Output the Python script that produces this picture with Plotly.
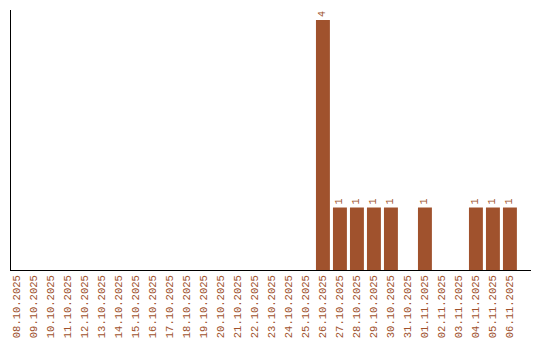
import plotly.graph_objects as go

dates = ["08.10.2025","09.10.2025","10.10.2025","11.10.2025","12.10.2025","13.10.2025",
         "14.10.2025","15.10.2025","16.10.2025","17.10.2025","18.10.2025","19.10.2025",
         "20.10.2025","21.10.2025","22.10.2025","23.10.2025","24.10.2025","25.10.2025",
         "26.10.2025","27.10.2025","28.10.2025","29.10.2025","30.10.2025","31.10.2025",
         "01.11.2025","02.11.2025","03.11.2025","04.11.2025","05.11.2025","06.11.2025"]
values = [0,0,0,0,0,0,0,0,0,0,0,0,0,0,0,0,0,0,4,1,1,1,1,0,1,0,0,1,1,1]

color = "#A0522D"
labels = [str(v) if v > 0 else "" for v in values]

fig = go.Figure(go.Bar(
    x=list(range(len(dates))), y=values, marker_color=color, marker_line_width=0, width=0.82,
    text=labels, textposition="outside", textangle=-90,
    textfont=dict(family="Liberation Mono", size=10, color=color),
    cliponaxis=False, hoverinfo="skip",
))
fig.update_layout(
    width=540, height=340, margin=dict(l=11, r=9, t=10, b=70),
    plot_bgcolor="white", paper_bgcolor="white", showlegend=False,
    font=dict(family="Liberation Mono", size=10, color=color),
)
fig.update_xaxes(range=[-0.35, 30.24], tickmode="array", tickvals=list(range(len(dates))),
                 ticktext=dates, tickangle=-90, showline=True, linecolor="black", linewidth=1,
                 showgrid=False, ticks="", zeroline=False, automargin=False,
                 tickfont=dict(family="Liberation Mono", size=10.5, color=color))
fig.update_yaxes(range=[0, 4.16], showline=True, linecolor="black", linewidth=1,
                 showgrid=False, showticklabels=False, ticks="", zeroline=False, automargin=False)
fig.write_html("out.html")
